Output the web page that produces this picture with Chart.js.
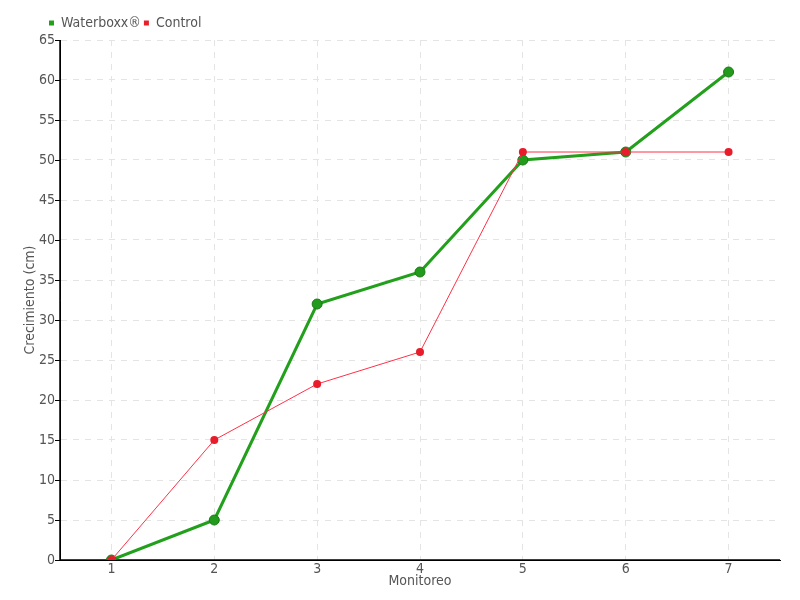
<!DOCTYPE html>
<html><head><meta charset="utf-8">
<script src="https://cdn.jsdelivr.net/npm/chart.js@4/dist/chart.umd.min.js"></script>
<style>html,body{margin:0;padding:0;background:#fff}#wrap{width:800px;height:600px}</style>
</head><body><div id="wrap"><canvas id="c" width="800" height="600"></canvas></div>
<script>
const categories = ['1','2','3','4','5','6','7'];
const waterboxx = [0,5,32,36,50,51,61];
const control = [0,15,22,26,51,51,51];
const yTicks = [0,5,10,15,20,25,30,35,40,45,50,55,60,65];

const FONT = "'Liberation Sans Narrow','DejaVu Sans Condensed','DejaVu Sans',sans-serif";
Chart.defaults.font.family = FONT;
Chart.defaults.color = '#555';

new Chart(document.getElementById('c'), {
  type: 'line',
  data: {
    labels: categories,
    datasets: [
      {label:'Waterboxx®', data: waterboxx, borderColor:'#22a01c', backgroundColor:'#22a01c',
       borderWidth:3, pointRadius:5, pointBackgroundColor:'#229a1c', pointBorderColor:'#1a7a16', pointBorderWidth:1, tension:0, order:2},
      {label:'Control', data: control, borderColor:'#ff3048', backgroundColor:'#e8202a',
       borderWidth:1, pointRadius:4, pointBackgroundColor:'#e81c2a', pointBorderColor:'#e81c2a', pointBorderWidth:0, tension:0, order:1}
    ]
  },
  options: {
    responsive:false, animation:false,
    layout:{padding:{top:13,right:20,left:0,bottom:0}},
    plugins:{
      legend:{position:'top', align:'start',
        labels:{boxWidth:5, boxHeight:5, padding:3, font:{size:14}, color:'#555',
        generateLabels(chart){ return chart.data.datasets.map((d,i)=>({text:d.label, fillStyle:i===0?'#22a01c':'#e8202a', strokeStyle:'transparent', lineWidth:0, datasetIndex:i, fontColor:'#555'})); }}},
      tooltip:{enabled:false}
    },
    scales:{
      x:{offset:true,
        afterFit(s){ s.height = 40; },
        grid:{color:'#e4e4e4', drawTicks:false, offset:false},
        border:{color:'#000', dash:[6,6]},
        ticks:{font:{size:14}, color:'#555', padding:1},
        title:{display:true, text:'Monitoreo', font:{size:14}, color:'#555', padding:{top:0,bottom:10}}
      },
      y:{min:0, max:65, afterBuildTicks(s){ s.ticks = yTicks.map(v=>({value:v})); },
        afterFit(s){ s.width = 60; },
        grid:{color:'#e4e4e4', drawTicks:false},
        border:{color:'#000', dash:[6,6]},
        ticks:{font:{size:14}, color:'#555', padding:5},
        title:{display:true, text:'Crecimiento (cm)', font:{size:14}, color:'#555', padding:{top:22,bottom:0}}
      }
    }
  },
  plugins:[{
    id:'legendShift',
    afterLayout(chart){ if(chart.legend){ chart.legend.left += 46; chart.legend.right += 46; } }
  },{
    id:'axes',
    beforeDatasetsDraw(chart){
      const ctx=chart.ctx, a=chart.chartArea, y=chart.scales.y;
      ctx.save();
      ctx.strokeStyle='#000'; ctx.lineWidth=1.5; ctx.setLineDash([]);
      ctx.beginPath(); ctx.moveTo(a.left,a.top); ctx.lineTo(a.left,a.bottom); ctx.lineTo(a.right,a.bottom); ctx.stroke();
      ctx.lineWidth=1;
      yTicks.forEach(v=>{const py=Math.round(y.getPixelForValue(v))+0.5; ctx.beginPath(); ctx.moveTo(a.left-5,py); ctx.lineTo(a.left,py); ctx.stroke();});
      ctx.restore();
    }
  }]
});
</script></body></html>
